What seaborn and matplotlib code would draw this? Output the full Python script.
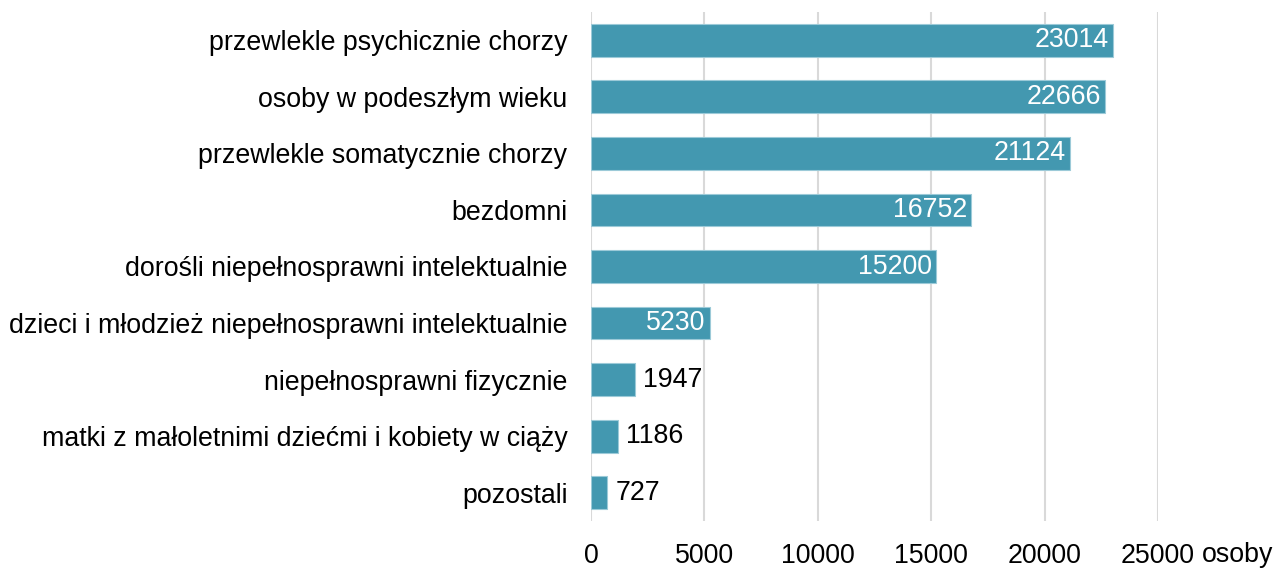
import matplotlib
matplotlib.use("Agg")
import matplotlib.pyplot as plt
import seaborn as sns
import pandas as pd

# Data
categories = [
    "przewlekle psychicznie chorzy",
    "osoby w podeszłym wieku",
    "przewlekle somatycznie chorzy",
    "bezdomni",
    "dorośli niepełnosprawni intelektualnie",
    "dzieci i młodzież niepełnosprawni intelektualnie",
    "niepełnosprawni fizycznie",
    "matki z małoletnimi dziećmi i kobiety w ciąży",
    "pozostali",
]
values = [23014, 22666, 21124, 16752, 15200, 5230, 1947, 1186, 727]
x_ticks = [0, 5000, 10000, 15000, 20000, 25000]
unit_label = "osoby"

df = pd.DataFrame({"kategoria": categories, "liczba": values})

sns.set_theme(style="white")
plt.rcParams["font.family"] = ["Liberation Sans", "DejaVu Sans"]
FS = 19.3

fig = plt.figure(figsize=(12.77, 5.68), dpi=100)
ax = fig.add_axes([591 / 1277, 1 - 521 / 568, (1158 - 591) / 1277, (521 - 12) / 568])

sns.barplot(data=df, y="kategoria", x="liczba", orient="h", color="#4398B0",
            saturation=1, width=0.58, edgecolor="#9CCAD8", linewidth=0.8, ax=ax)

ax.set_xlim(0, 25000)
ax.set_ylim(len(categories) - 0.5, -0.5)
ax.set_xticks(x_ticks)
ax.set_xticklabels([str(t) for t in x_ticks], fontsize=FS, color="black")
ax.tick_params(axis="y", length=0, pad=17, labelsize=FS, labelcolor="black")
ax.tick_params(axis="x", length=0, pad=16)
ax.set_xlabel("")
ax.set_ylabel("")
ax.xaxis.grid(True, color="#D9D9D9", linewidth=1.5)
ax.set_axisbelow(True)
for s in ax.spines.values():
    s.set_visible(False)

# value labels: white inside long bars, black outside short ones
for i, v in enumerate(values):
    if v > 4000:
        ax.annotate(str(v), xy=(v, i), xytext=(-3, 0), textcoords="offset points",
                    ha="right", va="center", color="white", fontsize=FS)
    else:
        ax.annotate(str(v), xy=(v, i), xytext=(6, 0), textcoords="offset points",
                    ha="left", va="center", color="black", fontsize=FS)

fig.text(1202 / 1277, 1 - 555 / 568, unit_label, ha="left", va="center",
         fontsize=FS, color="black")

fig.savefig("out.png", dpi=100)
